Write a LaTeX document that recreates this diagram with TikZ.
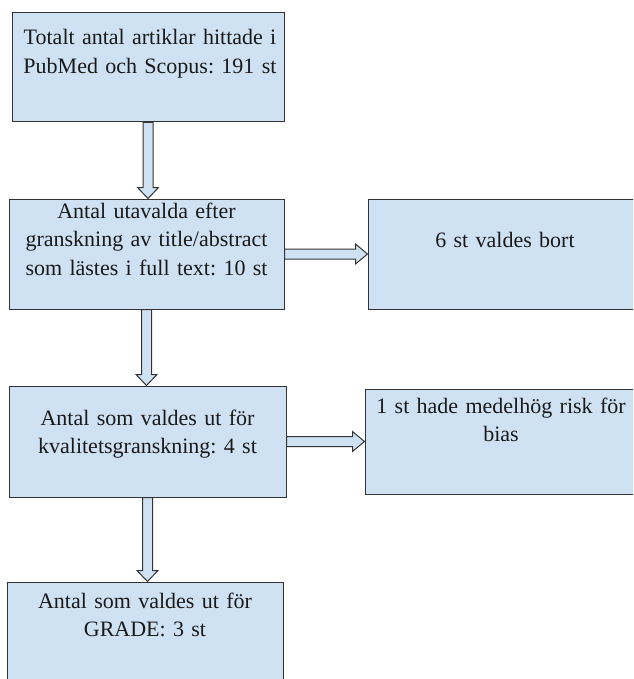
\documentclass[tikz,border=0pt]{standalone}
\usepackage{fontspec}
\setmainfont{Liberation Serif}
\usetikzlibrary{calc}
\definecolor{boxfill}{HTML}{CFE2F3}
\definecolor{boxline}{HTML}{333333}
\definecolor{txtcol}{HTML}{1A1A1A}
\tikzset{
  flowbox/.style={draw=boxline, fill=boxfill, line width=1pt, rectangle, inner sep=0pt},
  txt/.style={anchor=base, text width=290pt, align=center, inner sep=0pt, text=txtcol,
              font=\rmfamily\frenchspacing\fontsize{22}{28.5}\selectfont},
  barrow/.style={draw=boxline, fill=boxfill, line width=1pt, line join=miter}
}
\begin{document}
\begin{tikzpicture}[x=1pt,y=-1pt]
\useasboundingbox (0,0) rectangle (633,679);
\clip (0,0) rectangle (633,679);
\fill[white] (0,0) rectangle (633,679);

\node[flowbox, minimum width=272pt, minimum height=109pt] (b1) at (148,67.5) {};
\node[flowbox, minimum width=275pt, minimum height=110pt] (b2) at (146.5,254) {};
\node[flowbox, minimum width=275pt, minimum height=110pt] (b3) at (505.5,254) {};
\node[flowbox, minimum width=277pt, minimum height=111pt] (b4) at (147.5,441.5) {};
\node[flowbox, minimum width=272pt, minimum height=105pt] (b5) at (501,441.5) {};
\node[flowbox, minimum width=276pt, minimum height=110pt] (b6) at (145,637) {};

\node[txt] (t1) at (150,45) {Totalt antal artiklar hittade i\\PubMed och Scopus: 191 st};
\node[txt] (t2) at (146.5,218) {Antal utavalda efter\\granskning av title/abstract\\som lästes i full text: 10 st};
\node[txt] (t3) at (505,247) {6 st valdes bort};
\node[txt] (t4) at (147.5,425) {Antal som valdes ut för\\kvalitetsgranskning: 4 st};
\node[txt] (t5) at (501,413) {1 st hade medelhög risk för\\bias};
\node[txt] (t6) at (145,608) {Antal som valdes ut för\\GRADE: 3 st};

% vertical block arrows
\foreach \a/\b in {b1/b2, b2/b4, b4/b6}{
  \draw[barrow] let \p1=(\a.south), \p2=(\b.north) in
    (\x1-5pt,\y1) -- (\x1-5pt,\y2+11pt) -- (\x1-10.5pt,\y2+11pt) -- (\x1,\y2)
    -- (\x1+10.5pt,\y2+11pt) -- (\x1+5pt,\y2+11pt) -- (\x1+5pt,\y1) -- cycle;
}
% horizontal block arrows
\foreach \a/\b in {b2/b3, b4/b5}{
  \draw[barrow] let \p1=(\a.east), \p2=(\b.west) in
    (\x1,\y1+5pt) -- (\x2-12pt,\y1+5pt) -- (\x2-12pt,\y1+10pt) -- (\x2,\y1)
    -- (\x2-12pt,\y1-10pt) -- (\x2-12pt,\y1-5pt) -- (\x1,\y1-5pt) -- cycle;
}
\end{tikzpicture}
\end{document}
